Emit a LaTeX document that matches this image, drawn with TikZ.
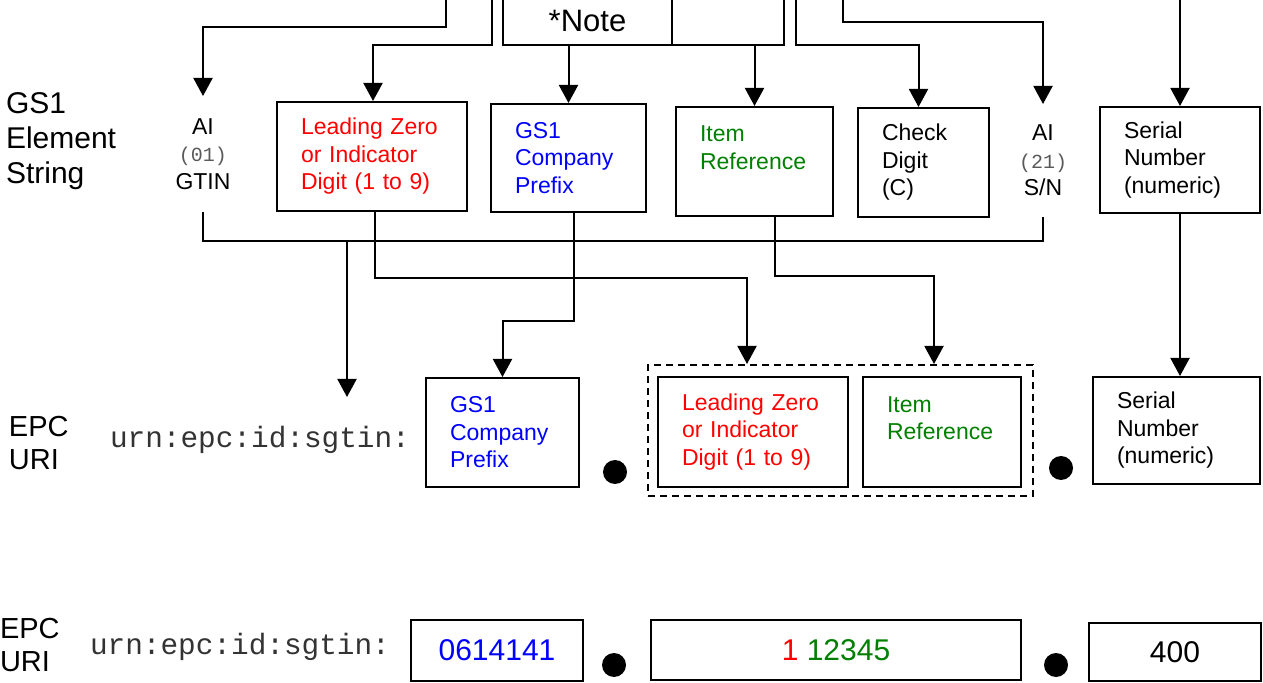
\documentclass[tikz,border=0pt]{standalone}
\usepackage{fontspec}
\setmainfont{Liberation Sans}
\setmonofont{Liberation Mono}
\usetikzlibrary{arrows.meta,calc}
\definecolor{gsred}{RGB}{255,0,0}
\definecolor{gsblue}{RGB}{0,0,255}
\definecolor{gsgreen}{RGB}{0,128,0}
\newcommand\bxfont{\fontsize{11.5}{13.75}\selectfont}
\newcommand\lblfont{\fontsize{15}{17.5}\selectfont}
\newcommand\epcfont{\fontsize{14.5}{16.5}\selectfont}
\newcommand\urnfont{\fontsize{14.7}{17}\selectfont\ttfamily\color{black!80}}
\newcommand\aimono{\fontsize{10}{13.75}\selectfont\ttfamily\color{black!65}}
\newcommand\valfont{\fontsize{15}{17}\selectfont}
\begin{document}
\begin{tikzpicture}[x=0.5pt,y=-0.5pt,line width=1pt,
  arr/.style={-{Triangle[width=9.5pt,length=9pt]}},
  box/.style={draw, line width=1pt, inner ysep=0pt, inner xsep=12pt, align=left, font=\bxfont},
  cell/.style={draw, line width=1pt, inner sep=0pt},
  valbox/.style={draw, line width=1pt, inner sep=0pt, align=center, font=\valfont},
  aitext/.style={inner sep=0pt, align=center, font=\bxfont},
  dot/.style={circle, fill, inner sep=0pt, minimum size=12pt},
  lbl/.style={anchor=west, align=left, inner sep=0pt}]
\clip (0,0) rectangle (1263,683);
\useasboundingbox (0,0) rectangle (1263,683);

% labels
\node[lbl, font=\lblfont] (gs1lbl) at (5,141.5) {GS1\\Element\\String};
\node[lbl, font=\epcfont] (epclbl) at (8,443.5) {EPC\\URI};
\node[lbl, font=\epcfont] (epclbltwo) at (-1,645) {EPC\\URI};
\node[lbl, font=\urnfont] (urnone) at (109,440) {urn:epc:id:sgtin:};
\node[lbl, font=\urnfont] (urntwo) at (89,647) {urn:epc:id:sgtin:};

% note cells (cut at top)
\node[cell, minimum width=84.5pt, minimum height=24pt, font=\fontsize{15.5}{17}\selectfont] (note1) at (587.5,21) {*Note};
\node[cell, minimum width=56pt, minimum height=24pt] (note2) at (728,21) {};

% top row
\node[aitext, minimum height=57pt] (ai1) at (203,154) {AI\\{\aimono (01)}\\GTIN};
\node[box, text=gsred, minimum width=95pt, minimum height=54.5pt, text width=71pt] (lz) at (372,156.5)
  {Leading~Zero\\or~Indicator\\Digit~(1~to~9)};
\node[box, text=gsblue, minimum width=77.5pt, minimum height=54pt, text width=53.5pt] (cp) at (568.5,158)
  {GS1\\Company\\Prefix};
\node[box, text=gsgreen, minimum width=78.5pt, minimum height=54.5pt, text width=54.5pt] (ir) at (754.5,161.5)
  {Item\\Reference\\\mbox{}};
\node[box, minimum width=65.5pt, minimum height=54.5pt, text width=41.5pt] (cd) at (923.5,162.5)
  {Check\\Digit\\(C)};
\node[aitext, minimum height=55.5pt] (ai21) at (1043,160.5) {AI\\{\aimono (21)}\\S/N};
\node[box, minimum width=80pt, minimum height=53pt, text width=56pt] (sn) at (1180,160)
  {Serial\\Number\\(numeric)};

% middle row
\node[draw, dash pattern=on 3.5pt off 2.5pt, line width=1pt, minimum width=192.5pt, minimum height=65.5pt, inner sep=0pt] (dash) at (840.5,430.5) {};
\node[box, text=gsblue, minimum width=76.5pt, minimum height=54.5pt, text width=52.5pt] (cpm) at (502.5,432.5)
  {GS1\\Company\\Prefix};
\node[box, text=gsred, minimum width=95pt, minimum height=55pt, text width=71pt] (lzm) at (753,432)
  {Leading~Zero\\or~Indicator\\Digit~(1~to~9)};
\node[box, text=gsgreen, minimum width=79pt, minimum height=55pt, text width=55pt] (irm) at (942,432)
  {Item\\Reference\\\mbox{}};
\node[box, minimum width=83.5pt, minimum height=53.5pt, text width=59.5pt] (snm) at (1176.5,430.5)
  {Serial\\Number\\(numeric)};
\node[dot] (d1) at (615,472) {};
\node[dot] (d2) at (1061,468) {};

% bottom row
\node[valbox, text=gsblue, minimum width=86pt, minimum height=30.5pt] (v1) at (497,650.5) {0614141};
\node[valbox, minimum width=185pt, minimum height=30pt] (v2) at (836,650) {\textcolor{gsred}{1} \textcolor{gsgreen}{12345}};
\node[valbox, minimum width=86pt, minimum height=29pt] (v3) at (1175,652) {400};
\node[dot] (d3) at (614,665) {};
\node[dot] (d4) at (1056,665) {};

% top connectors
\coordinate (t1) at (446,0);
\coordinate (t2) at (492,0);
\coordinate (t3) at (796,0);
\coordinate (t4) at (843,0);
\coordinate (t5) at (1180,0);
\draw[arr] (t1) -- ++(0,27) -| (ai1.north);
\draw[arr] (t2) -- ++(0,45) -| ($(lz.north)+(1,0)$);
\draw[arr] (cp.north |- note1.south) -- (cp.north);
\draw[arr] (ir.north |- note2.south) -- (ir.north);
\draw[arr] (t3) -- ++(0,45) -| ($(cd.north)+(-5,0)$);
\draw[arr] (t4) -- ++(0,22) -| (ai21.north);
\draw[arr] (t5) -- (sn.north);

% bus
\draw (ai1.south) -- ++(0,29) -| (ai21.south);
\coordinate (j1) at (347,240);
\coordinate (u1) at (347,397);
\draw[arr] (j1) -- (u1);

% lower connectors
\draw[arr] ($(lz.south)+(3,0)$) -- ++(0,66) -| ($(dash.north west)+(100,0)$);
\draw[arr] ($(ir.south)+(20,0)$) -- ++(0,59) -| ($(dash.north west)+(287,0)$);
\draw[arr] ($(cp.south)+(5,0)$) -- ++(0,108) -| (cpm.north);
\draw[arr] (sn.south) -- (sn.south |- snm.north);
\end{tikzpicture}
\end{document}
